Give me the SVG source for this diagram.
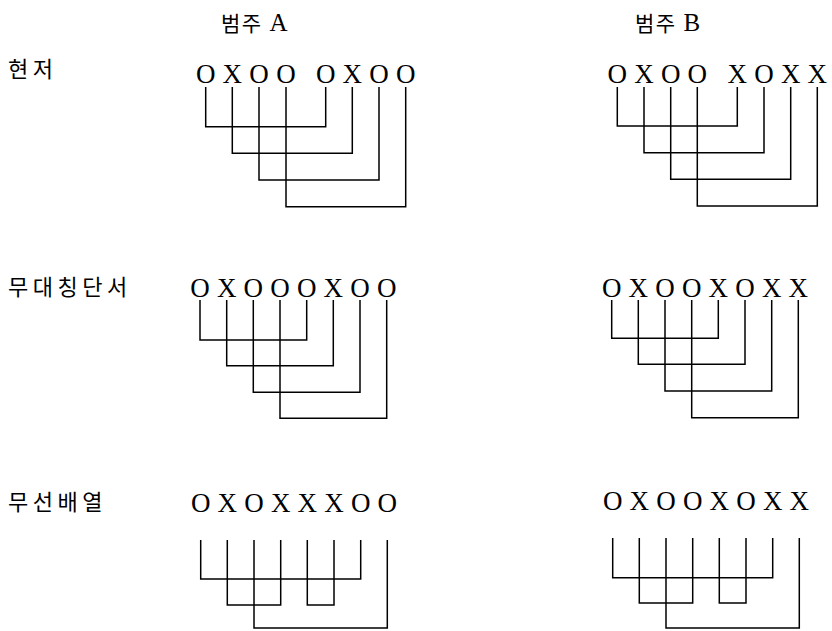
<svg xmlns="http://www.w3.org/2000/svg" width="832" height="631" viewBox="0 0 832 631">
<style>
.bg{fill:#fff}
.lbl{font-family:"Noto Sans CJK KR","Liberation Serif",sans-serif;font-size:22px;fill:#000;letter-spacing:4.5px}
.hdr{font-family:"Liberation Serif","Noto Sans CJK KR",serif;font-size:21px;fill:#000;letter-spacing:1.5px}
.big{font-size:25px}
.seq{font-family:"Liberation Serif",serif;font-size:27px;fill:#000;text-anchor:middle}
.ln{fill:none;stroke:#000;stroke-width:1.5}
</style>
<rect class="bg" x="0" y="0" width="832" height="631"/>
<g id="headers">
<text class="hdr" x="221" y="31">범주 <tspan class="big">A</tspan></text>
<text class="hdr" x="635" y="31">범주 <tspan class="big">B</tspan></text>
</g>
<g id="row-labels">
<text class="lbl" x="8" y="77">현저</text>
<text class="lbl" x="8" y="295">무대칭단서</text>
<text class="lbl" x="8" y="510">무선배열</text>
</g>
<g id="panel-A1">
<text class="seq" x="205.7 232.3 259 286 306 325.7 352.3 379 405.7" y="83">OXOO OXOO</text>
</g>
<g id="panel-B1">
<text class="seq" x="617.3 644 670.7 697.3 717 737.3 764 790.7 817.3" y="83">OXOO XOXX</text>
</g>
<g id="panel-A2">
<text class="seq" x="200 226.7 253.3 280 306.7 333.3 360 386.7" y="297">OXOOOXOO</text>
</g>
<g id="panel-B2">
<text class="seq" x="611.7 638.3 665 691.7 718.3 745 771.7 798.3" y="297">OXOOXOXX</text>
</g>
<g id="panel-A3">
<text class="seq" x="200.7 227.3 254 280.7 307.3 334 360.7 387.3" y="512">OXOXXXOO</text>
</g>
<g id="panel-B3">
<text class="seq" x="612.7 639.3 666 692.7 719.3 746 772.7 799.3" y="510">OXOOXOXX</text>
</g>
<g id="connectors" class="ln">
<path d="M205.7 87V126.7H325.7V87M232.3 87V153.3H352.3V87M259 87V180H379V87M286 87V206.7H405.7V87"/>
<path d="M617.3 87V126H737.3V87M644 87V152.7H764V87M670.7 87V179.3H790.7V87M697.3 87V206H817.3V87"/>
<path d="M200 300V340H306.7V300M226.7 300V365.7H333.3V300M253.3 300V392.3H360V300M280 300V418.3H386.7V300"/>
<path d="M611.7 300V338.3H718.3V300M638.3 300V364.3H745V300M665 300V391H771.7V300M691.7 300V417.7H798.3V300"/>
<path d="M200.7 540V579H360.7V540M227.3 540V605H280.7V540M307.3 540V605H334V540M254 540V628H387.3V540"/>
<path d="M612.7 538V577.7H772.7V538M639.3 538V603H692.7V538M719.3 538V603H746V538M666 538V628H799.3V538"/>
</g>
</svg>
